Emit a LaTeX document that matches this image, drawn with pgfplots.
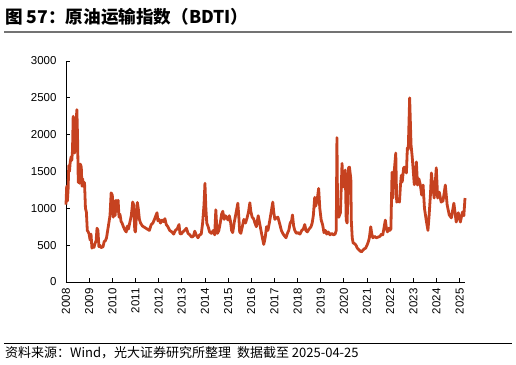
\documentclass[border=0pt]{standalone}
\usepackage{fontspec}
\setmainfont{Liberation Sans}
\newfontfamily\cjk{Noto Sans CJK SC}
\usepackage{pgfplots}
\pgfplotsset{compat=1.18}
\definecolor{bdti}{RGB}{198,66,32}
\begin{document}
\begin{tikzpicture}
\useasboundingbox (0pt,0pt) rectangle (516pt,364pt);
\node[anchor=west,inner sep=0pt,font=\cjk\bfseries\fontsize{17.6}{17.6}\selectfont] at (5pt,347pt) {图 57：原油运输指数（BDTI）};
\draw[black!55, line width=1.5pt] (4pt,332pt) -- (512pt,332pt);
\draw[black, line width=0.8pt] (4pt,20.5pt) -- (512pt,20.5pt);
\node[anchor=west,inner sep=0pt,font=\cjk\fontsize{13}{13}\selectfont] at (5pt,11pt) {资料来源：Wind，光大证券研究所整理\ \ 数据截至 2025-04-25};
\begin{axis}[at={(66pt,82pt)}, anchor=south west, scale only axis,
  width=399pt, height=221pt,
  xmin=2008, xmax=2025.23, ymin=0, ymax=3000,
  axis x line*=bottom, axis y line*=left, axis line style={-, line width=0.8pt},
  tick align=inside, major tick length=4pt,
  tick style={black, line width=0.8pt},
  xtick={2008,2009,...,2025}, ytick={0,500,...,3000},
  xticklabel style={rotate=90, anchor=east, xshift=-3pt},
  yticklabel style={xshift=-6pt},
  /pgf/number format/1000 sep={},
  /pgf/number format/assume math mode=true,
  ticklabel style={font=\fontsize{11.5}{11.5}\selectfont},
  clip=false]
\addplot[color=bdti, line width=2.8pt, line join=round] coordinates {
(2008.00,1050)(2008.03,1300)(2008.06,1100)(2008.09,1250)(2008.12,1580)(2008.15,1500)
(2008.18,1620)(2008.22,1700)(2008.25,1650)(2008.28,1780)(2008.31,2250)(2008.34,1950)
(2008.37,1750)(2008.40,2000)(2008.44,2200)(2008.47,2340)(2008.50,1950)(2008.53,1350)
(2008.56,1500)(2008.59,1340)(2008.62,1600)(2008.66,1560)(2008.69,1300)(2008.72,1400)
(2008.75,1300)(2008.80,1350)(2008.84,1000)(2008.88,950)(2008.92,700)(2008.96,680)
(2009.00,650)(2009.04,570)(2009.08,650)(2009.12,460)(2009.17,480)(2009.21,470)
(2009.25,520)(2009.30,560)(2009.34,730)(2009.38,700)(2009.42,480)(2009.46,500)
(2009.50,470)(2009.55,470)(2009.60,480)(2009.65,550)(2009.70,560)(2009.75,600)
(2009.80,700)(2009.85,800)(2009.90,900)(2009.95,1210)(2010.00,1180)(2010.04,880)
(2010.08,1100)(2010.12,900)(2010.16,1110)(2010.20,960)(2010.25,1110)(2010.29,880)
(2010.33,920)(2010.38,820)(2010.42,800)(2010.48,750)(2010.55,700)(2010.60,680)
(2010.65,760)(2010.70,720)(2010.75,800)(2010.82,900)(2010.88,1085)(2010.92,1050)
(2010.97,700)(2011.00,680)(2011.04,900)(2011.08,1080)(2011.12,1000)(2011.17,850)
(2011.22,800)(2011.30,760)(2011.40,740)(2011.50,720)(2011.60,700)(2011.68,780)
(2011.75,800)(2011.82,850)(2011.88,900)(2011.93,940)(2011.97,830)(2012.02,850)
(2012.08,800)(2012.15,840)(2012.22,820)(2012.27,860)(2012.33,780)(2012.40,750)
(2012.48,700)(2012.57,680)(2012.65,650)(2012.72,700)(2012.80,720)(2012.88,780)
(2012.92,660)(2012.97,650)(2013.05,680)(2013.12,700)(2013.20,730)(2013.27,660)
(2013.35,640)(2013.42,610)(2013.50,620)(2013.56,690)(2013.62,640)(2013.70,600)
(2013.77,640)(2013.84,650)(2013.90,800)(2013.96,1050)(2014.00,1340)(2014.04,1000)
(2014.08,800)(2014.14,750)(2014.20,680)(2014.28,660)(2014.36,700)(2014.42,640)
(2014.47,980)(2014.50,800)(2014.54,660)(2014.60,700)(2014.65,780)(2014.72,920)
(2014.77,960)(2014.83,850)(2014.88,900)(2014.93,880)(2015.00,840)(2015.05,900)
(2015.10,830)(2015.15,700)(2015.20,670)(2015.26,800)(2015.32,900)(2015.38,1000)
(2015.42,1070)(2015.46,900)(2015.50,680)(2015.55,660)(2015.62,760)(2015.68,850)
(2015.75,800)(2015.82,870)(2015.88,950)(2015.94,1075)(2015.98,960)(2016.04,880)
(2016.10,860)(2016.16,800)(2016.22,750)(2016.30,900)(2016.36,800)(2016.42,700)
(2016.48,600)(2016.54,510)(2016.60,600)(2016.66,750)(2016.72,700)(2016.78,800)
(2016.85,930)(2016.93,1085)(2016.97,950)(2017.02,850)(2017.08,870)(2017.15,880)
(2017.22,800)(2017.30,700)(2017.38,650)(2017.45,620)(2017.50,600)(2017.56,660)
(2017.62,700)(2017.68,800)(2017.74,830)(2017.78,910)(2017.83,760)(2017.88,700)
(2017.95,660)(2018.02,670)(2018.10,650)(2018.18,700)(2018.25,720)(2018.31,780)
(2018.36,700)(2018.42,680)(2018.50,720)(2018.58,750)(2018.63,800)(2018.68,900)
(2018.74,1150)(2018.78,1030)(2018.84,1100)(2018.91,1270)(2018.96,1000)(2019.02,840)
(2019.08,780)(2019.14,670)(2019.20,700)(2019.26,650)(2019.32,680)(2019.40,640)
(2019.48,660)(2019.55,640)(2019.62,650)(2019.67,700)(2019.70,1960)(2019.73,900)
(2019.78,880)(2019.85,940)(2019.92,1610)(2019.96,1290)(2020.02,1300)(2020.06,1520)
(2020.10,840)(2020.14,800)(2020.20,1550)(2020.24,1560)(2020.30,1400)(2020.32,840)
(2020.36,600)(2020.40,530)(2020.46,520)(2020.52,500)(2020.58,460)(2020.64,440)
(2020.70,420)(2020.76,410)(2020.82,430)(2020.88,450)(2020.94,460)(2021.00,500)
(2021.06,550)(2021.10,600)(2021.16,750)(2021.20,660)(2021.25,600)(2021.32,620)
(2021.40,600)(2021.48,610)(2021.56,620)(2021.62,650)(2021.68,640)(2021.74,750)
(2021.79,840)(2021.84,720)(2021.88,680)(2021.94,730)(2021.98,700)(2022.03,720)
(2022.08,1490)(2022.12,1140)(2022.16,1450)(2022.20,1600)(2022.24,1750)(2022.28,1085)
(2022.34,1100)(2022.40,1085)(2022.44,1300)(2022.48,1450)(2022.52,1360)(2022.58,1550)
(2022.63,1560)(2022.70,1480)(2022.74,1820)(2022.78,1800)(2022.84,2500)(2022.90,1860)
(2022.95,1700)(2023.00,1490)(2023.04,1320)(2023.09,1400)(2023.13,1630)(2023.18,1316)
(2023.24,1400)(2023.30,1320)(2023.36,1180)(2023.42,1316)(2023.48,1000)(2023.55,850)
(2023.63,700)(2023.68,900)(2023.74,1200)(2023.78,1480)(2023.83,1316)(2023.90,1140)
(2023.99,1550)(2024.05,1140)(2024.12,1220)(2024.20,1085)(2024.28,1100)(2024.38,1316)
(2024.46,1045)(2024.55,910)(2024.64,870)(2024.75,1070)(2024.85,814)(2024.94,940)
(2025.03,814)(2025.12,950)(2025.18,900)(2025.23,1140)
};
\end{axis}
\end{tikzpicture}
\end{document}
